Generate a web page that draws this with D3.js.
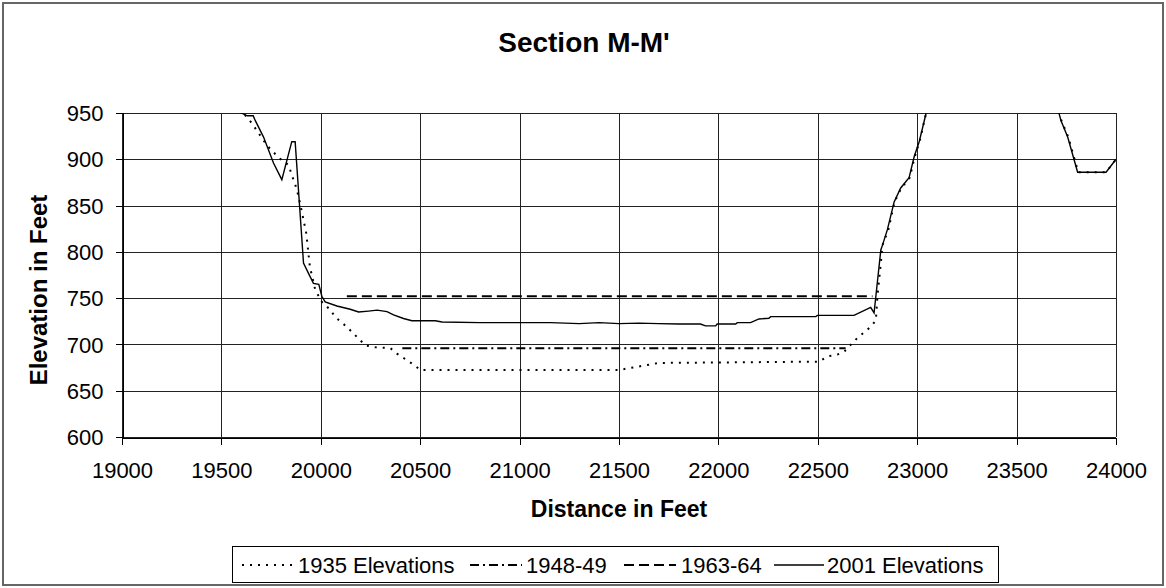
<!DOCTYPE html>
<html><head><meta charset="utf-8">
<script src="https://cdn.jsdelivr.net/npm/d3@7"></script>
<style>body{margin:0;background:#fff}svg{display:block}text{font-family:"Liberation Sans",Arial,sans-serif}</style>
</head><body><svg id="c" width="1166" height="588"></svg>
<script>
const xTicks=[19000,19500,20000,20500,21000,21500,22000,22500,23000,23500,24000];
const yTicks=[600,650,700,750,800,850,900,950];
const seriesNames=["1935 Elevations","1948-49","1963-64","2001 Elevations"];
const e1935=[[19560,960],[19610,950],[19653,939],[19729,915],[19792,901],[19837,894],[19880,867],[19900,848],[19927,820],[19945,784],[19972,759],[20005,746],[20031,741],[20081,728],[20131,719],[20224,699],[20266,697],[20350,696],[20383,690],[20475,677],[20500,672.4],[21500,672.4],[21700,680],[22506,681.4],[22548,687],[22598,689],[22632,692],[22699,707],[22766,719],[22792,726],[22800,752],[22817,788],[22825,807],[22855,824],[22886,854],[22920,869],[22962,880],[22988,903],[23012,919],[23045,950],[23100,1000],[23650,1000],[23725,942],[23760,924],[23810,886],[23950,886],[24000,900]];
const e1948=[[20410,696],[22640,696]];
const e1963=[[20131,752],[22775,752]];
const e2001=[[19560,955],[19600,950],[19630,947],[19660,947],[19670,942],[19712,924],[19762,896],[19804,878],[19854,919],[19871,919],[19913,788],[19940,776],[19963,766],[19990,765],[20005,752],[20022,746],[20081,741.5],[20148,738],[20190,735],[20240,736],[20283,737],[20333,735.5],[20366,732],[20416,728],[20458,725.6],[20576,725.6],[20610,724.2],[20800,723.5],[21000,723.5],[21155,723.5],[21300,722.5],[21400,723.5],[21500,722.5],[21600,723],[21700,722.5],[21800,722],[21910,722],[21935,720],[21986,720],[21994,722],[22087,722],[22095,723.5],[22162,723.5],[22204,727.5],[22254,728.2],[22263,730],[22490,730],[22498,731.4],[22682,731.4],[22766,740],[22783,734],[22817,802],[22825,807],[22850,824],[22884,854],[22917,869],[22959,880],[22985,903],[23010,919],[23045,950],[23100,1000],[23650,1000],[23723,942],[23757,924],[23807,886],[23950,886],[24000,900]];

const svg=d3.select("#c");
const L=122,R=1116,T=113,B=437;
const x=d3.scaleLinear().domain([19000,24000]).range([L,R]);
const y=d3.scaleLinear().domain([600,950]).range([B,T]);

svg.append("rect").attr("x",3).attr("y",3).attr("width",1160).attr("height",582).attr("fill","#fff").attr("stroke","#666").attr("stroke-width",2);

svg.append("text").attr("x",584).attr("y",52).attr("text-anchor","middle").attr("font-size",28).attr("font-weight","bold").text("Section M-M'");

const g=svg.append("g").attr("shape-rendering","crispEdges");
g.selectAll(".hg").data(yTicks).join("line").attr("x1",L).attr("x2",R).attr("y1",d=>Math.round(y(d))+0.5).attr("y2",d=>Math.round(y(d))+0.5).attr("stroke","#222");
g.selectAll(".vg").data(xTicks).join("line").attr("y1",T).attr("y2",B).attr("x1",d=>Math.round(x(d))+0.5).attr("x2",d=>Math.round(x(d))+0.5).attr("stroke","#222");

const ax=svg.append("g").attr("transform",`translate(0,${Math.round(y(600))+0.5})`).call(d3.axisBottom(x).tickValues(xTicks).tickSize(7).tickFormat(d3.format("d")));
const ay=svg.append("g").attr("transform",`translate(${Math.round(x(19000))+0.5},0)`).call(d3.axisLeft(y).tickValues(yTicks).tickSize(7).tickFormat(d3.format("d")));
[ax,ay].forEach(a=>{a.select(".domain").attr("stroke","#000");a.selectAll(".tick line").attr("stroke","#000");a.selectAll("text").attr("font-size",22).attr("fill","#000").attr("font-family",'"Liberation Sans",Arial,sans-serif');a.attr("shape-rendering","crispEdges");});
ax.selectAll(".tick text").attr("dy",null).attr("y",40);
ay.selectAll(".tick text").attr("x",-19).attr("dy","0.35em");

svg.append("text").attr("x",619).attr("y",517).attr("text-anchor","middle").attr("font-size",23).attr("font-weight","bold").text("Distance in Feet");
svg.append("text").attr("transform","translate(47,290) rotate(-90)").attr("text-anchor","middle").attr("font-size",24).attr("font-weight","bold").text("Elevation in Feet");

svg.append("clipPath").attr("id","clip").append("rect").attr("x",L).attr("y",T).attr("width",R-L).attr("height",B-T);
const line=d3.line().x(d=>x(d[0])).y(d=>y(d[1]));
const styles=[
 {data:e1935,dash:"2,6",w:2},
 {data:e1948,dash:"9,4,2,4",w:2},
 {data:e1963,dash:"10,5",w:2},
 {data:e2001,dash:null,w:1.4}
];
const pg=svg.append("g").attr("clip-path","url(#clip)");
styles.forEach(s=>{pg.append("path").attr("d",line(s.data)).attr("fill","none").attr("stroke","#000").attr("stroke-width",s.w).attr("stroke-dasharray",s.dash);});

svg.append("rect").attr("x",232.5).attr("y",546.5).attr("width",766).attr("height",36).attr("fill","#fff").attr("stroke","#000").attr("shape-rendering","crispEdges");
const leg=[{x1:242,x2:295,tx:298},{x1:470,x2:522,tx:526},{x1:624,x2:676,tx:681},{x1:774,x2:824,tx:827}];
leg.forEach((l,i)=>{
 svg.append("line").attr("x1",l.x1).attr("x2",l.x2).attr("y1",565).attr("y2",565).attr("stroke","#000").attr("stroke-width",styles[i].w).attr("stroke-dasharray",styles[i].dash);
 svg.append("text").attr("x",l.tx).attr("y",573).attr("font-size",22).text(seriesNames[i]);
});
</script></body></html>
